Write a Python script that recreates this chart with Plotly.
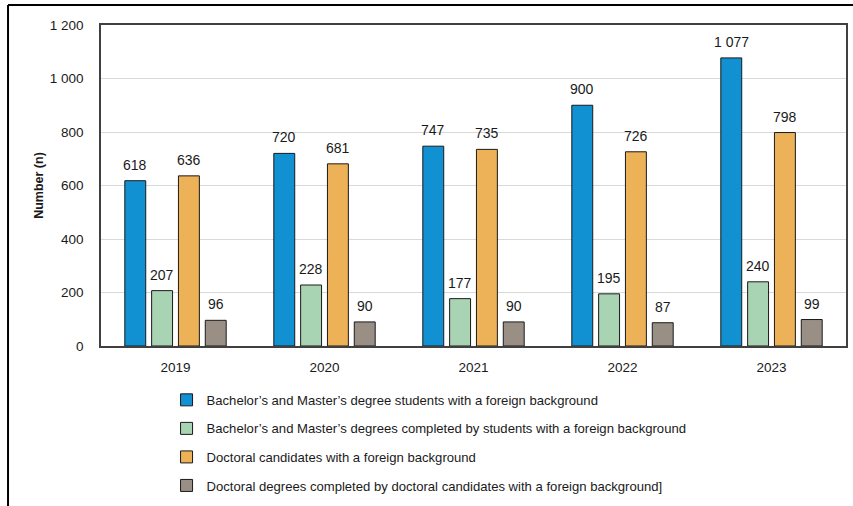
import plotly.graph_objects as go

years = ["2019", "2020", "2021", "2022", "2023"]
ba_ma_students = [618, 720, 747, 900, 1077]
ba_ma_completed = [207, 228, 177, 195, 240]
doctoral_candidates = [636, 681, 735, 726, 798]
doctoral_completed = [96, 90, 90, 87, 99]

series_names = [
    "Bachelor\u2019s and Master\u2019s degree students with a foreign background",
    "Bachelor\u2019s and Master\u2019s degrees completed by students with a foreign background",
    "Doctoral candidates with a foreign background",
    "Doctoral degrees completed by doctoral candidates with a foreign background]",
]
series_values = [ba_ma_students, ba_ma_completed, doctoral_candidates, doctoral_completed]
colors = ["#1190D2", "#A9D4B4", "#EDB257", "#9A8F84"]

FONT = "Liberation Sans, Arial, sans-serif"
BARGAP = 0.28
SLOT_PX = 149 * (1 - BARGAP) / 4  # width of one bar slot in pixels

fig = go.Figure()
for i, (name, vals, col) in enumerate(zip(series_names, series_values, colors)):
    fig.add_trace(go.Bar(
        x=years, y=vals, name=name,
        marker=dict(color=col, line=dict(color="#1a1a1a", width=1)),
        legendgroup=f"g{i}",
    ))
    for j, v in enumerate(vals):
        fig.add_annotation(
            x=j, y=v, xref="x", yref="y",
            text=f"{v:,}".replace(",", " "),
            showarrow=False, yanchor="bottom", xanchor="center",
            xshift=(i - 1.5) * SLOT_PX, yshift=6,
            font=dict(family=FONT, size=14, color="#1a1a1a"),
        )

# outer frame lines (top and left)
fig.add_shape(type="line", xref="paper", yref="paper",
              x0=-0.1248, x1=1.02, y0=1.0623, y1=1.0623,
              line=dict(color="#000000", width=2))
fig.add_shape(type="line", xref="paper", yref="paper",
              x0=-0.1248, x1=-0.1248, y0=1.0623, y1=-0.52,
              line=dict(color="#000000", width=2))

fig.update_layout(
    width=853, height=506,
    margin=dict(l=101, r=7, t=25, b=160, autoexpand=False),
    paper_bgcolor="white", plot_bgcolor="white",
    separators=". ",
    barmode="group", bargap=BARGAP, bargroupgap=0.22,
    font=dict(family=FONT, size=13, color="#1a1a1a"),
    showlegend=True,
    legend=dict(
        orientation="v", x=0.088, y=-0.121, xanchor="left", yanchor="top",
        font=dict(family=FONT, size=13.1, color="#1a1a1a"),
        traceorder="grouped", tracegroupgap=8.5,
        itemwidth=30, bgcolor="rgba(0,0,0,0)",
    ),
    xaxis=dict(
        type="category", range=[-0.5, len(years) - 0.5],
        showline=True, linecolor="#404040", linewidth=1.5, mirror=True,
        ticks="", tickfont=dict(size=13.5), ticklabelstandoff=8,
    ),
    yaxis=dict(
        title=dict(text="<b>Number (n)</b>", font=dict(size=12.5), standoff=3),
        range=[0, 1200], dtick=200, tickformat=",",
        showgrid=True, gridcolor="#D9D9D9", gridwidth=1,
        showline=True, linecolor="#404040", linewidth=1.5, mirror=True,
        zeroline=False, ticks="", ticklabelstandoff=13,
        tickfont=dict(size=13.5),
    ),
)

fig.write_html("out.html")
